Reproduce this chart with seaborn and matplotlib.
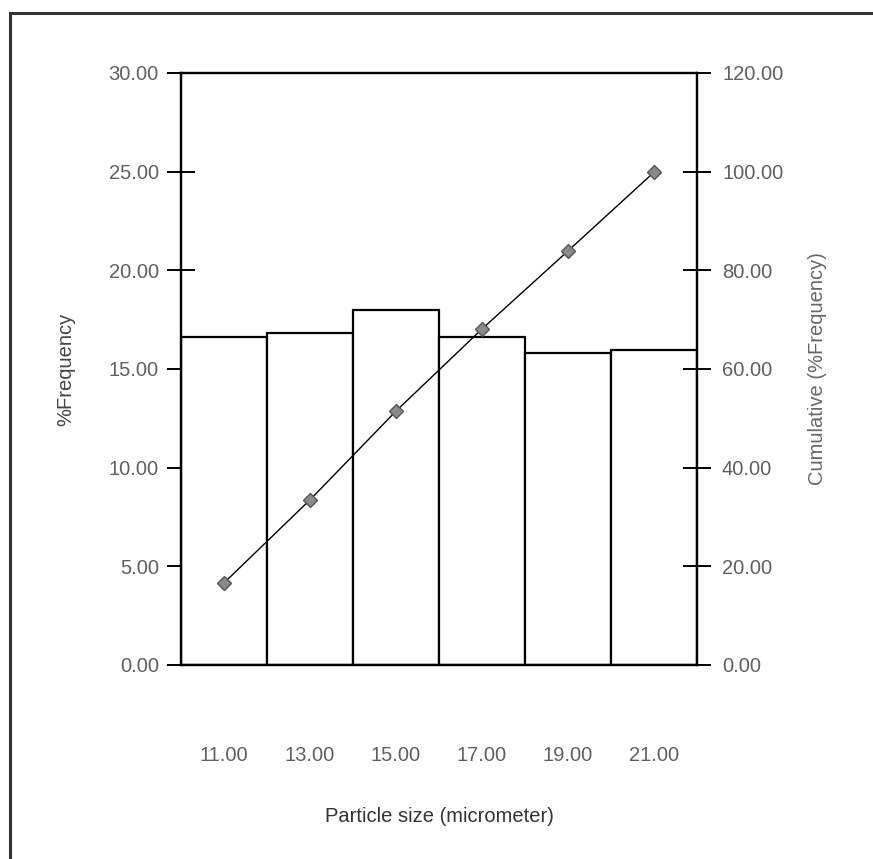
import matplotlib
matplotlib.use("Agg")
import matplotlib.pyplot as plt
import seaborn as sns
import pandas as pd
import numpy as np
from matplotlib.patches import Rectangle
from matplotlib.ticker import FormatStrFormatter, FixedLocator

# ---- data ----
particle_size = [11, 13, 15, 17, 19, 21]
size_labels = ["11.00", "13.00", "15.00", "17.00", "19.00", "21.00"]
pct_frequency = [16.64, 16.84, 17.99, 16.64, 15.83, 15.95]
cumulative = [16.64, 33.48, 51.47, 68.11, 83.94, 99.89]
bin_edges = [10, 12, 14, 16, 18, 20, 22]

df = pd.DataFrame({"size": particle_size, "freq": pct_frequency, "cum": cumulative})

sns.set_style("white")
plt.rcParams["font.family"] = ["Liberation Sans", "DejaVu Sans"]

fig = plt.figure(figsize=(8.73, 8.59), dpi=100)
ax = fig.add_axes([181 / 873, 1 - 665 / 859, (697 - 181) / 873, (665 - 73) / 859])

sns.barplot(data=df, x="size", y="freq", native_scale=True, width=1.0,
            color="white", edgecolor="black", linewidth=1.6, ax=ax)

ax.set_xlim(10, 22)
ax.set_ylim(0, 30)

ax2 = ax.twinx()
sns.lineplot(data=df, x="size", y="cum", color="black", linewidth=1.0,
             marker="D", markersize=7.5, markerfacecolor="#8a8a8a",
             markeredgecolor="#555555", markeredgewidth=1.0, ax=ax2)
ax2.set_ylim(0, 120)
ax2.set_xlim(10, 22)

tick_color = "#606060"
fs = 14.5
# x axis: ticks at bin edges, labels at bin centres
ax.xaxis.set_major_locator(FixedLocator(bin_edges))
ax.set_xticklabels([""] * len(bin_edges))
ax.xaxis.set_minor_locator(FixedLocator(particle_size))
ax.set_xticklabels(size_labels, minor=True)
ax.tick_params(axis="x", which="major", direction="inout", length=22, width=1.6, color="black")
ax.tick_params(axis="x", which="minor", length=0, pad=58, labelsize=fs, labelcolor=tick_color)

ax.set_yticks([0, 5, 10, 15, 20, 25, 30])
ax.yaxis.set_major_formatter(FormatStrFormatter("%.2f"))
ax.tick_params(axis="y", direction="inout", length=20, width=1.4, color="black",
               labelsize=fs, labelcolor=tick_color, pad=6)

ax2.set_yticks([0, 20, 40, 60, 80, 100, 120])
ax2.yaxis.set_major_formatter(FormatStrFormatter("%.2f"))
ax2.tick_params(axis="y", direction="inout", length=20, width=1.4, color="black",
                labelsize=fs, labelcolor=tick_color, pad=8)

for a in (ax, ax2):
    for s in a.spines.values():
        s.set_color("black")
        s.set_linewidth(1.6)

ax.set_xlabel("Particle size (micrometer)", fontsize=fs, color="#333333")
ax.xaxis.set_label_coords(0.5, -0.24)
ax.set_ylabel("%Frequency", fontsize=fs, color="#444444")
ax.yaxis.set_label_coords(-0.205, 0.5)
ax2.set_ylabel("Cumulative (%Frequency)", fontsize=fs, color="#666666")
ax2.yaxis.set_label_coords(1.215, 0.5)

# outer frame of the original figure
fig.patches.append(Rectangle((10 / 873, -0.02), 1.05, 1 - 13 / 859 + 0.02,
                             transform=fig.transFigure, fill=False,
                             edgecolor="#333333", linewidth=2.2))

fig.savefig("out.png", dpi=100)
